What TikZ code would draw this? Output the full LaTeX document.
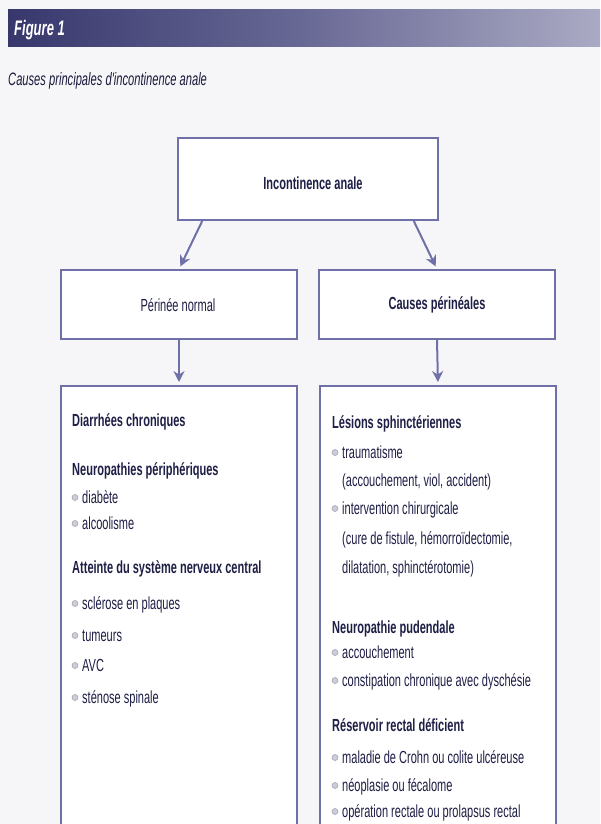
\documentclass[tikz,border=0pt]{standalone}
\usepackage{fontspec}
\setmainfont{Liberation Sans}[FakeStretch=0.63]
\newfontfamily\titlefont{Liberation Sans}[FakeStretch=0.62]
\usetikzlibrary{arrows.meta,calc}
\definecolor{bg}{RGB}{246,246,249}
\definecolor{boxc}{RGB}{112,112,168}
\definecolor{txt}{RGB}{30,30,70}
\definecolor{barL}{RGB}{55,55,108}
\definecolor{barM}{RGB}{105,105,150}
\definecolor{barR}{RGB}{170,170,196}
\definecolor{bulf}{RGB}{205,205,215}
\definecolor{bulr}{RGB}{165,165,185}
\tikzset{
  boxst/.style={draw=boxc, line width=1.6pt, fill=white, rectangle, inner sep=0pt},
  arr/.style={draw=boxc, line width=2pt, -{Stealth[length=11pt,width=11pt]}, shorten >=3pt},
  hd/.style={anchor=base west, inner sep=0pt, text=txt, font=\fontsize{17.5}{20}\selectfont\bfseries},
  itm/.style={anchor=base west, inner sep=0pt, text=txt, font=\fontsize{17.5}{20}\selectfont},
  bul/.style={fill=bulf, draw=bulr, line width=0.6pt},
  lbl/.style={text=txt, font=\fontsize{17.5}{20}\selectfont\bfseries, inner sep=0pt}
}
\newcommand\itm[3]{\node[itm] (#1) at (#2) {#3};
  \filldraw[bul] ([xshift=-7pt,yshift=5.5pt]#1.base west) circle (3pt);}
\begin{document}
\begin{tikzpicture}[x=1pt,y=-1pt]
\useasboundingbox (0,0) rectangle (600,824);
\clip (0,0) rectangle (600,824);
\fill[bg] (0,0) rectangle (600,824);
% header bar
\shade[left color=barL, right color=barM] (8,10) rectangle (304,47);
\shade[left color=barM, right color=barR] (304,10) rectangle (600,47);
\node[anchor=base west, inner sep=0pt, text=white, font=\titlefont\fontsize{21}{24}\selectfont\bfseries\itshape] (fig) at (14,36) {Figure 1};
\node[anchor=base west, inner sep=0pt, text=txt!85!black, font=\titlefont\fontsize{18}{21}\selectfont\itshape] (title) at (8,86) {Causes principales d'incontinence anale};
% boxes
\node[boxst, minimum width=260pt, minimum height=82pt] (top) at (308,179) {};
\node[lbl] (topt) at (313,183) {Incontinence anale};
\node[boxst, minimum width=236pt, minimum height=69pt] (left) at (179,304.5) {};
\node[lbl, font=\fontsize{17.5}{20}\selectfont] (leftt) at (178,305) {Périnée normal};
\node[boxst, minimum width=236pt, minimum height=69pt] (right) at (437,304.5) {};
\node[lbl] (rightt) at (437,305) {Causes périnéales};
\node[boxst, minimum width=236pt, minimum height=460pt, anchor=north] (llist) at (179,385) {};
\node[boxst, minimum width=236pt, minimum height=460pt, anchor=north] (rlist) at (438,385) {};
% arrows
\draw[arr] ($(top.south west)!0.096!(top.south east)$) -- (left.north);
\draw[arr] ($(top.south west)!0.904!(top.south east)$) -- (right.north);
\draw[arr] (left.south) -- (llist.north);
\draw[arr] (right.south) -- (rlist.north);
% left list
\node[hd] (l1) at (72,426) {Diarrhées chroniques};
\node[hd] (l2) at (72,475) {Neuropathies périphériques};
\itm{l3}{82,503}{diabète}
\itm{l4}{82,529}{alcoolisme}
\node[hd] (l5) at (72,573) {Atteinte du système nerveux central};
\itm{l6}{82,609}{sclérose en plaques}
\itm{l7}{82,641}{tumeurs}
\itm{l8}{82,671}{AVC}
\itm{l9}{82,703}{sténose spinale}
% right list
\node[hd] (r1) at (332,428) {Lésions sphinctériennes};
\itm{r2}{342,458}{traumatisme}
\node[itm] (r3) at (342,486) {(accouchement, viol, accident)};
\itm{r4}{342,514}{intervention chirurgicale}
\node[itm] (r5) at (342,544) {(cure de fistule, hémorroïdectomie,};
\node[itm] (r6) at (342,573) {dilatation, sphinctérotomie)};
\node[hd] (r7) at (332,633) {Neuropathie pudendale};
\itm{r8}{342,658}{accouchement}
\itm{r9}{342,686}{constipation chronique avec dyschésie}
\node[hd] (r10) at (332,731) {Réservoir rectal déficient};
\itm{r11}{342,763}{maladie de Crohn ou colite ulcéreuse}
\itm{r12}{342,791}{néoplasie ou fécalome}
\itm{r13}{342,817}{opération rectale ou prolapsus rectal}
\end{tikzpicture}
\end{document}
